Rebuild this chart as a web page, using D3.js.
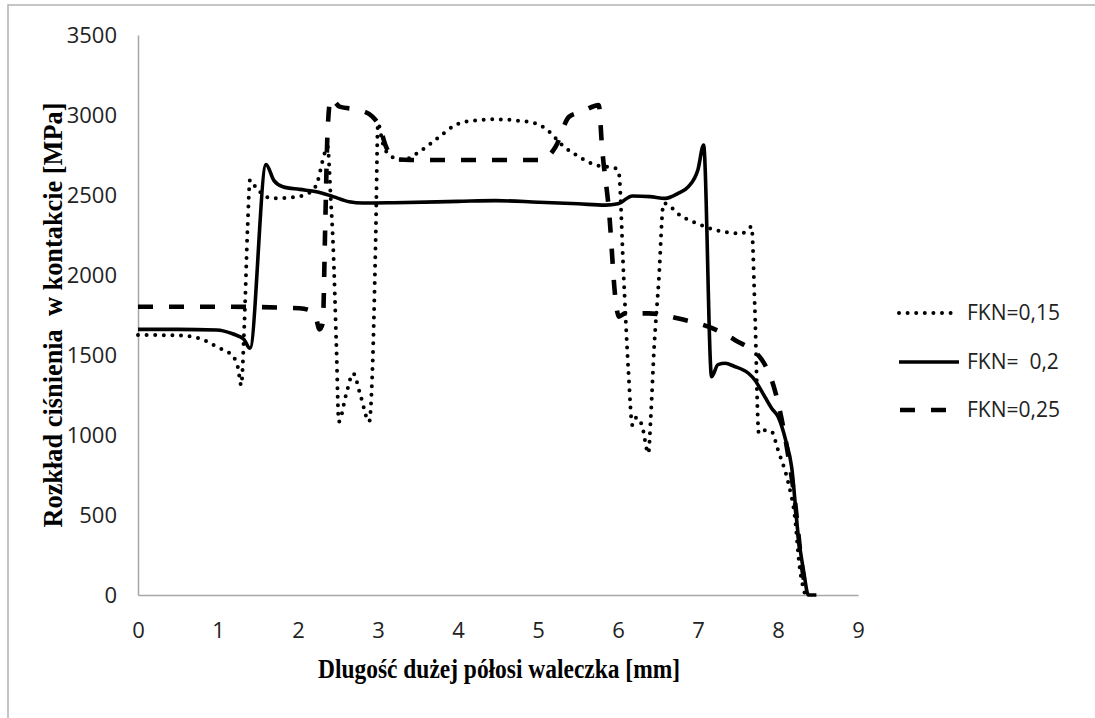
<!DOCTYPE html>
<html lang="pl">
<head>
    <meta charset="UTF-8">
    <title>Rozkład ciśnienia</title>
    <script src="https://cdn.jsdelivr.net/npm/d3@7/dist/d3.min.js"></script>
    <style>
        body { margin: 0; background: #fff; }
        .tick text { font-family: "Open Sans", sans-serif; font-size: 22px; fill: #222; }
        .domain { stroke: #a6a6a6; stroke-width: 1.5; }
        .series { fill: none; stroke: #000; }
        .legend text { font-family: "Open Sans", sans-serif; font-size: 21px; fill: #222; }
        .title { font-family: "Liberation Serif", serif; font-weight: bold; font-size: 27px; fill: #000; }
    </style>
</head>
<body>
<script>
    var xTicks = [0, 1, 2, 3, 4, 5, 6, 7, 8, 9];
    var yTicks = [0, 500, 1000, 1500, 2000, 2500, 3000, 3500];
    var seriesNames = ["FKN=0,15", "FKN=  0,2", "FKN=0,25"];

    var fkn15X = [0, 0.5, 0.77, 0.98, 1.19, 1.25, 1.29, 1.33, 1.37, 1.40, 1.48, 1.67, 2.0, 2.19, 2.25, 2.31, 2.37, 2.41, 2.44, 2.48, 2.51,
        2.6, 2.69, 2.78, 2.89, 2.93, 2.97, 3.0, 3.06, 3.14, 3.31, 3.52, 3.77, 3.97, 4.18, 4.47, 4.76, 4.97, 5.14, 5.30, 5.51, 5.72, 5.97,
        6.01, 6.07, 6.13, 6.18, 6.23, 6.30, 6.38, 6.41, 6.45, 6.51, 6.57, 6.80, 7.0, 7.22, 7.55, 7.67, 7.71, 7.76, 7.84, 7.92, 8.0, 8.13,
        8.21, 8.27, 8.34];
    var fkn15Y = [1625, 1622, 1604, 1552, 1490, 1420, 1310, 1700, 2300, 2594, 2542, 2479, 2490, 2531, 2594, 2719, 2802, 2469, 2177, 1552, 1083,
        1250, 1385, 1250, 1083, 1400, 2200, 2948, 2823, 2750, 2719, 2771, 2865, 2938, 2964, 2973, 2964, 2948, 2896, 2813, 2740, 2687, 2667,
        2640, 2000, 1400, 1062, 1110, 1060, 885, 1115, 1531, 1969, 2448, 2365, 2320, 2281, 2260, 2302, 1800, 1010, 1030, 1021, 906, 698,
        490, 177, 0];

    var fkn20X = [0, 0.5, 0.98, 1.19, 1.32, 1.40, 1.60, 1.70, 1.81, 2.02, 2.23, 2.44, 2.64, 2.81, 3.2, 4.0, 4.47, 5.0, 5.5, 5.84, 6.0,
        6.18, 6.4, 6.59, 6.75, 6.88, 7.0, 7.07, 7.17, 7.25, 7.34, 7.45, 7.63, 7.71, 7.8, 7.92, 8.0, 8.1, 8.17, 8.25, 8.32, 8.38, 8.48];
    var fkn20Y = [1660, 1660, 1656, 1631, 1600, 1542, 2690, 2590, 2552, 2535, 2521, 2490, 2458, 2450, 2452, 2460, 2465, 2455, 2445, 2437, 2445,
        2494, 2490, 2479, 2510, 2552, 2660, 2812, 1364, 1440, 1448, 1430, 1386, 1344, 1270, 1167, 1115, 960, 802, 385, 150, 0, 0];

    var fkn25X = [0, 1.0, 2.02, 2.14, 2.22, 2.27, 2.31, 2.34, 2.37, 2.41, 2.52, 2.77, 2.93, 3.02, 3.10, 3.23, 3.4, 4.0, 4.5, 5.05, 5.22, 5.39,
        5.55, 5.76, 5.80, 5.89, 5.97, 6.01, 6.09, 6.38, 6.8, 7.13, 7.46, 7.8, 7.96, 8.13, 8.21, 8.30, 8.36];
    var fkn25Y = [1802, 1802, 1792, 1781, 1740, 1660, 1700, 2300, 2900, 3104, 3052, 3031, 2990, 2927, 2802, 2723, 2719, 2719, 2719, 2719, 2802, 2990,
        3021, 3062, 2802, 2385, 1844, 1740, 1760, 1760, 1723, 1677, 1594, 1469, 1281, 865, 594, 177, 0];

    var dashStyles = ["0 8.6", null, "15 16"];
    var widths = [4, 3.6, 4.6];

    var svg = d3.select("body")
        .append("svg")
        .attr("width", 1095).attr("height", 718);

    svg.append("rect").attr("width", 1095).attr("height", 718).attr("fill", "#fff");
    // ramka wykresu
    svg.append("rect")
        .attr("x", 8).attr("y", 5)
        .attr("width", 1100).attr("height", 730)
        .attr("fill", "none").attr("stroke", "#b3b3b3").attr("stroke-width", 1.5);

    var x = d3.scaleLinear().domain([0, 9]).range([138, 858]);
    var y = d3.scaleLinear().domain([0, 3500]).range([595, 35]);

    svg.append("g")
        .attr("transform", "translate(0,595)")
        .call(d3.axisBottom(x).tickValues(xTicks).tickSize(0).tickPadding(27).tickFormat(d3.format("d")));

    svg.append("g")
        .attr("transform", "translate(138,0)")
        .call(d3.axisLeft(y).tickValues(yTicks).tickSize(0).tickPadding(21).tickFormat(d3.format("d")));

    var line = d3.line()
        .curve(d3.curveMonotoneX)
        .x(function (d) { return x(d[0]); })
        .y(function (d) { return y(d[1]); });

    var allSeries = [
        d3.zip(fkn15X, fkn15Y),
        d3.zip(fkn20X, fkn20Y),
        d3.zip(fkn25X, fkn25Y)
    ];

    allSeries.forEach(function (data, i) {
        var p = svg.append("path")
            .attr("class", "series")
            .attr("d", line(data))
            .attr("stroke-width", widths[i]);
        if (dashStyles[i]) p.attr("stroke-dasharray", dashStyles[i]);
        if (i === 0) p.attr("stroke-linecap", "round");
    });

    // legenda
    var legend = svg.append("g").attr("class", "legend");
    var legY = [313, 362, 410];
    seriesNames.forEach(function (name, i) {
        var l = legend.append("line")
            .attr("x1", i === 2 ? 900 : 899).attr("x2", i === 0 ? 957 : 959)
            .attr("y1", legY[i]).attr("y2", legY[i])
            .attr("stroke", "#000")
            .attr("stroke-width", widths[i]);
        if (dashStyles[i]) l.attr("stroke-dasharray", dashStyles[i]);
        if (i === 0) l.attr("stroke-linecap", "round");
        legend.append("text")
            .attr("x", 967).attr("y", legY[i])
            .attr("dy", "0.35em")
            .style("white-space", "pre")
            .text(name);
    });

    // tytuły osi
    svg.append("text")
        .attr("class", "title")
        .attr("x", 499).attr("y", 678)
        .attr("text-anchor", "middle")
        .attr("textLength", 362)
        .attr("lengthAdjust", "spacingAndGlyphs")
        .text("Dlugość dużej półosi waleczka [mm]");

    svg.append("text")
        .attr("class", "title")
        .attr("transform", "translate(62,315) rotate(-90)")
        .attr("text-anchor", "middle")
        .attr("textLength", 425)
        .attr("lengthAdjust", "spacingAndGlyphs")
        .style("white-space", "pre")
        .text("Rozkład ciśnienia  w kontakcie [MPa]");
</script>
</body>
</html>
